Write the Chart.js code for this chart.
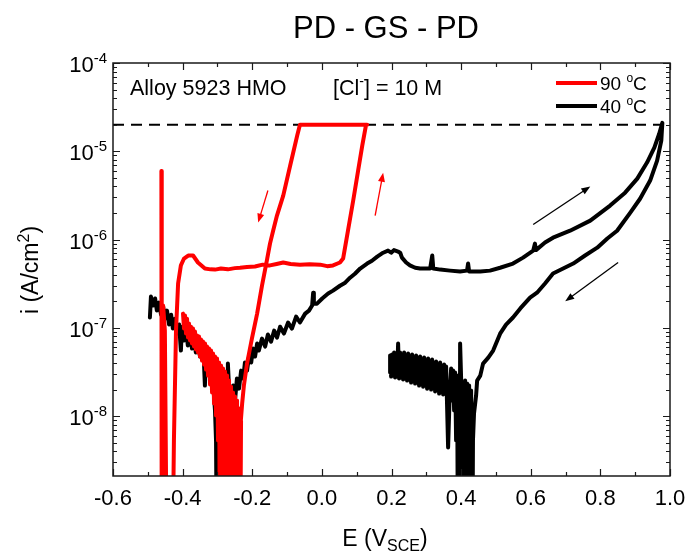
<!DOCTYPE html>
<html>
<head>
<meta charset="utf-8">
<script src="https://cdn.jsdelivr.net/npm/chart.js@4.4.0/dist/chart.umd.min.js"></script>
<style>
  html, body { margin: 0; padding: 0; background: #fff; }
</style>
</head>
<body>
<canvas id="chart" width="689" height="556"></canvas>
<script>
// 90 C scan: forward PD, GS hold at 2e-5, reverse PD (E in V_SCE, i in A/cm2)
const redE = [
  -0.461, -0.460, -0.456, -0.451, -0.445, -0.430, -0.425, -0.419, -0.413, -0.405,
  -0.396, -0.384, -0.370, -0.356, -0.336, -0.320, -0.307, -0.290, -0.270, -0.250,
  -0.235, -0.215, -0.192, -0.170, -0.149, -0.130, -0.111, -0.090, -0.063, -0.035,
  -0.005, 0.015, 0.032, 0.052, 0.061, 0.075, 0.090, 0.104, 0.116, 0.127,
  0.130, -0.063, -0.071, -0.091, -0.111, -0.129, -0.140, -0.149, -0.157, -0.172,
  -0.186, -0.201, -0.215, -0.224, -0.229, -0.235, -0.238, -0.241,
  // noisy cathodic branch of the reverse scan
  -0.2322, -0.2351, -0.2379, -0.2408, -0.2437, -0.2466, -0.2494, -0.2523, -0.2552, -0.2580,
  -0.2609, -0.2638, -0.2667, -0.2695, -0.2724, -0.2753, -0.2782, -0.2810, -0.2839, -0.2868,
  -0.2897, -0.2925, -0.2954, -0.2983, -0.3011, -0.3040, -0.3069, -0.3098, -0.3126, -0.3155,
  -0.3184, -0.3213, -0.3241, -0.3270, -0.3299, -0.3328, -0.3356, -0.3385, -0.3414, -0.3443,
  -0.3471, -0.3500, -0.3529, -0.3557, -0.3586, -0.3615, -0.3644, -0.3672, -0.3701, -0.3730,
  -0.3759, -0.3787, -0.3816, -0.3845, -0.3874, -0.3902, -0.3931, -0.3960, -0.3989
];
const redI = [
  6.0e-6, 1e-10, 1.79e-7, 9.3e-8, 1e-10, 1e-10, 5.3e-9, 9.3e-8, 3.18e-7, 5.1e-7,
  6.1e-7, 6.6e-7, 6.6e-7, 5.5e-7, 4.7e-7, 4.6e-7, 4.57e-7, 4.7e-7, 4.6e-7, 4.75e-7,
  4.8e-7, 4.9e-7, 4.95e-7, 5.2e-7, 5.1e-7, 5.3e-7, 5.5e-7, 5.3e-7, 5.2e-7, 5.25e-7,
  5.2e-7, 5.0e-7, 5.1e-7, 5.5e-7, 6.1e-7, 1.26e-6, 2.77e-6, 6.0e-6, 1.16e-5, 2.0e-5,
  2.0e-5, 2.0e-5, 1.5e-5, 6.9e-6, 3.15e-6, 1.87e-6, 1.26e-6, 9.0e-7, 6.1e-7, 3.0e-7,
  1.45e-7, 7.56e-8, 3.94e-8, 2.22e-8, 1.39e-8, 6.9e-9, 3.6e-9, 1e-10,
  8.9e-9, 1e-10, 1.22e-8, 1e-10, 1.5e-8, 1e-10, 1.67e-8, 1e-10, 1.85e-8, 1e-10,
  2.16e-8, 1e-10, 2.53e-8, 1e-10, 2.88e-8, 1e-10, 3.2e-8, 1e-10, 3.46e-8, 1e-10,
  3.74e-8, 1e-10, 4.05e-8, 5.29e-9, 4.49e-8, 1.02e-8, 4.73e-8, 1.39e-8, 5.12e-8, 1.85e-8,
  5.53e-8, 2.28e-8, 5.83e-8, 2.88e-8, 6.14e-8, 3.37e-8, 6.64e-8, 3.84e-8, 6.99e-8, 4.26e-8,
  7.37e-8, 4.73e-8, 7.96e-8, 5.25e-8, 8.18e-8, 5.68e-8, 9.08e-8, 6.14e-8, 9.82e-8, 6.64e-8,
  1.03e-7, 7.18e-8, 1.12e-7, 7.76e-8, 1.27e-7, 8.62e-8, 1.38e-7, 9.82e-8, 1.45e-7
];

// 40 C scan
const blackE = [
  -0.494, -0.491, -0.485, -0.479, -0.474, -0.468, -0.462, -0.456, -0.451, -0.445,
  -0.439, -0.433, -0.428, -0.422, -0.416, -0.410, -0.405, -0.402, -0.396, -0.390,
  -0.385, -0.379, -0.373, -0.367, -0.362, -0.356, -0.350, -0.344, -0.339, -0.336,
  -0.333, -0.327, -0.321, -0.316, -0.313, -0.310, -0.307, -0.304, -0.301, -0.295,
  -0.290, -0.284, -0.278, -0.272, -0.270, -0.267, -0.261, -0.255, -0.249, -0.244,
  -0.238, -0.232, -0.226, -0.221, -0.215, -0.209, -0.203, -0.198, -0.192, -0.186,
  -0.181, -0.172, -0.163, -0.155, -0.146, -0.137, -0.129, -0.120, -0.109, -0.097,
  -0.086, -0.074, -0.063, -0.048, -0.037, -0.028, -0.025, -0.023, -0.014, 0.001,
  0.018, 0.032, 0.052, 0.067, 0.081, 0.095, 0.110, 0.130, 0.144, 0.159,
  0.176, 0.190, 0.199, 0.207, 0.219, 0.225, 0.230, 0.242, 0.253, 0.268,
  0.282, 0.297, 0.311, 0.317, 0.320, 0.340, 0.368, 0.397, 0.417, 0.420,
  0.423, 0.455, 0.483, 0.512, 0.549, 0.578, 0.607, 0.612, 0.615, 0.641,
  0.664, 0.713, 0.771, 0.828, 0.871, 0.906, 0.934, 0.955, 0.969, 0.978,
  0.975, 0.963, 0.943, 0.914, 0.886, 0.848, 0.820, 0.791, 0.756, 0.722,
  0.693, 0.664, 0.641, 0.618, 0.598, 0.570, 0.549, 0.529, 0.512, 0.492,
  0.478, 0.463, 0.455, 0.446, 0.443, 0.437, 0.434, 0.432,
  // noisy tail of the reverse scan
  0.4287, 0.4259, 0.4230, 0.4201, 0.4172, 0.4144, 0.4115, 0.4086, 0.4057, 0.4029,
  0.4000, 0.3971, 0.3957, 0.3943, 0.3914, 0.3885, 0.3856, 0.3828, 0.3799, 0.3770,
  0.3741, 0.3713, 0.3670, 0.3626,
  0.3569, 0.3540, 0.3511, 0.3483, 0.3454, 0.3425, 0.3397, 0.3368, 0.3339, 0.3310,
  0.3282, 0.3253, 0.3224, 0.3195, 0.3167, 0.3138, 0.3109, 0.3080, 0.3052, 0.3023,
  0.2994, 0.2966, 0.2937, 0.2908, 0.2879, 0.2851, 0.2822, 0.2793, 0.2764, 0.2736,
  0.2707, 0.2678, 0.2649, 0.2621, 0.2592, 0.2563, 0.2534, 0.2506, 0.2477, 0.2448,
  0.2420, 0.2391, 0.2362, 0.2333, 0.2305, 0.2276, 0.2247, 0.2218, 0.2190, 0.2161,
  0.2132, 0.2103, 0.2075, 0.2046, 0.2017, 0.1989, 0.1960, 0.1960
];
const blackI = [
  1.31e-7, 2.26e-7, 1.79e-7, 2.15e-7, 1.57e-7, 1.93e-7, 1.41e-7, 1.74e-7, 1.27e-7, 1.57e-7,
  1.09e-7, 1.41e-7, 9.82e-8, 1.27e-7, 8.62e-8, 1.09e-7, 5.53e-8, 1.03e-7, 7.18e-8, 9.32e-8,
  6.3e-8, 8.18e-8, 5.83e-8, 7.18e-8, 5.25e-8, 6.47e-8, 4.73e-8, 5.83e-8, 4.26e-8, 2.22e-8,
  5.25e-8, 3.64e-8, 4.49e-8, 2.88e-8, 3.74e-8, 1.71e-8, 1.16e-8, 5.29e-9, 1e-10, 1e-10,
  6.87e-9, 1.5e-8, 2.34e-8, 1.85e-8, 3.94e-8, 2.22e-8, 1.71e-8, 2.22e-8, 1.58e-8, 2.67e-8,
  2.05e-8, 3.28e-8, 2.67e-8, 4.05e-8, 3.28e-8, 4.86e-8, 4.05e-8, 5.83e-8, 4.73e-8, 6.64e-8,
  5.53e-8, 7.56e-8, 6.14e-8, 8.4e-8, 6.99e-8, 9.32e-8, 7.76e-8, 1.03e-7, 8.62e-8, 1.15e-7,
  9.82e-8, 1.34e-7, 1.15e-7, 1.45e-7, 1.57e-7, 1.79e-7, 2.5e-7, 1.88e-7, 1.88e-7, 2.15e-7,
  2.45e-7, 2.64e-7, 3.0e-7, 3.25e-7, 3.7e-7, 4.1e-7, 4.7e-7, 5.35e-7, 5.75e-7, 6.4e-7,
  7.1e-7, 7.5e-7, 7.1e-7, 7.6e-7, 7.3e-7, 7.1e-7, 6.25e-7, 5.5e-7, 5.1e-7, 4.8e-7,
  4.7e-7, 4.7e-7, 4.7e-7, 6.6e-7, 4.7e-7, 4.57e-7, 4.45e-7, 4.35e-7, 4.45e-7, 5.35e-7,
  4.35e-7, 4.35e-7, 4.45e-7, 4.8e-7, 5.35e-7, 6.25e-7, 7.5e-7, 9.0e-7, 7.6e-7, 9.25e-7,
  1.05e-6, 1.26e-6, 1.64e-6, 2.43e-6, 3.4e-6, 4.9e-6, 7.45e-6, 1.1e-5, 1.58e-5, 2.1e-5,
  1.32e-5, 7.85e-6, 4.66e-6, 2.9e-6, 2.02e-6, 1.26e-6, 1.03e-6, 8.1e-7, 6.6e-7, 5.35e-7,
  4.7e-7, 4.12e-7, 3.18e-7, 2.5e-7, 2.2e-7, 1.66e-7, 1.31e-7, 1.09e-7, 8.6e-8, 5.53e-8,
  4.6e-8, 3.94e-8, 2.88e-8, 2.53e-8, 1.71e-8, 1.07e-8, 5.3e-9, 1e-10,
  1.95e-8, 1e-10, 2.22e-8, 1e-10, 2.34e-8, 1e-10, 2.53e-8, 1e-10, 2.4e-8, 1e-10,
  2.67e-8, 6.64e-8, 1e-10, 2.81e-8, 1e-10, 2.88e-8, 5.29e-9, 3.12e-8, 1.16e-8, 3.28e-8,
  1.5e-8, 3.46e-8, 1.71e-8, 4.41e-9,
  3.64e-8, 1.85e-8, 3.84e-8, 1.76e-8, 3.55e-8, 1.95e-8, 4.05e-8, 1.8e-8, 3.74e-8, 2.05e-8,
  4.15e-8, 1.9e-8, 3.94e-8, 2.11e-8, 4.38e-8, 2.0e-8, 4.15e-8, 2.16e-8, 4.49e-8, 2.05e-8,
  4.26e-8, 2.22e-8, 4.61e-8, 2.16e-8, 4.38e-8, 2.34e-8, 4.73e-8, 2.22e-8, 4.49e-8, 2.4e-8,
  4.86e-8, 2.34e-8, 4.61e-8, 2.53e-8, 4.99e-8, 2.4e-8, 4.73e-8, 2.6e-8, 5.12e-8, 2.53e-8,
  4.86e-8, 2.67e-8, 5.25e-8, 2.6e-8, 4.99e-8, 2.74e-8, 5.25e-8, 2.67e-8, 6.64e-8, 2.81e-8,
  5.12e-8, 2.74e-8, 5.25e-8, 2.88e-8, 4.99e-8, 2.81e-8, 4.86e-8, 3.12e-8
];

// galvanostatic current limit (dashed)
const limitE = [-0.6, 1.0];
const limitI = [2e-5, 2e-5];

// axis ticks
const xMajor = [-0.6, -0.4, -0.2, 0.0, 0.2, 0.4, 0.6, 0.8, 1.0];
const xMinor = [-0.5, -0.3, -0.1, 0.1, 0.3, 0.5, 0.7, 0.9];
const yExp = [-8, -7, -6, -5, -4];

// scan direction arrows, [E, i] from -> to
const arrowColor = ["#ff0000", "#ff0000", "#000000", "#000000"];
const arrowFrom = [[-0.155, 3.6e-6], [0.153, 1.87e-6], [0.607, 1.48e-6], [0.851, 5.5e-7]];
const arrowTo = [[-0.183, 1.56e-6], [0.176, 5.7e-6], [0.771, 4.0e-6], [0.699, 2.0e-7]];

const FONT = "'Liberation Sans', Arial, sans-serif";

function toPoints(xs, ys) {
  return xs.map((v, k) => ({ x: v, y: ys[k] }));
}

function runsWidth(ctx, runs) {
  let w = 0;
  runs.forEach((r) => {
    ctx.font = r.size + "px " + FONT;
    w += ctx.measureText(r.t).width;
  });
  return w;
}

function drawRuns(ctx, runs, x, y) {
  runs.forEach((r) => {
    ctx.font = r.size + "px " + FONT;
    ctx.fillText(r.t, x, y + (r.dy || 0));
    x += ctx.measureText(r.t).width;
  });
}

// frame, inward ticks, labels, legend and arrows
const decor = {
  id: "decor",
  afterDatasetsDraw(chart) {
    const { ctx, chartArea: a, scales } = chart;
    const x = scales.x;
    const y = scales.y;
    ctx.save();
    ctx.strokeStyle = "#1a1a1a";
    ctx.lineWidth = 1.5;
    ctx.strokeRect(a.left, a.top, a.right - a.left, a.bottom - a.top);

    ctx.beginPath();
    const xt = (v, len) => {
      const px = Math.round(x.getPixelForValue(v)) + 0.5;
      ctx.moveTo(px, a.bottom); ctx.lineTo(px, a.bottom - len);
      ctx.moveTo(px, a.top); ctx.lineTo(px, a.top + len);
    };
    const yt = (v, len) => {
      const py = Math.round(y.getPixelForValue(v)) + 0.5;
      ctx.moveTo(a.left, py); ctx.lineTo(a.left + len, py);
      ctx.moveTo(a.right, py); ctx.lineTo(a.right - len, py);
    };
    xMajor.forEach((v) => xt(v, 7));
    xMinor.forEach((v) => xt(v, 4));
    for (let d = -9; d <= -4; d++) {
      for (let k = 1; k <= 9; k++) {
        const v = k * Math.pow(10, d);
        if (v < y.min || v > y.max * 1.0001) continue;
        yt(v, k === 1 ? 7 : 4);
      }
    }
    ctx.lineWidth = 1.2;
    ctx.stroke();

    ctx.fillStyle = "#000";
    ctx.textAlign = "left";
    ctx.textBaseline = "alphabetic";

    // y tick labels 10^n
    yExp.forEach((e) => {
      const py = y.getPixelForValue(Math.pow(10, e));
      const runs = [{ t: "10", size: 22 }, { t: String(e), size: 15, dy: -9 }];
      const w = runsWidth(ctx, runs);
      drawRuns(ctx, runs, a.left - 6 - w, py + 9);
    });

    // title
    let runs = [{ t: "PD - GS - PD", size: 31 }];
    drawRuns(ctx, runs, 386 - runsWidth(ctx, runs) / 2, 38);

    // x title
    runs = [{ t: "E (V", size: 23 }, { t: "SCE", size: 16, dy: 5 }, { t: ")", size: 23 }];
    drawRuns(ctx, runs, 385 - runsWidth(ctx, runs) / 2, 546);

    // y title
    ctx.save();
    ctx.translate(30, 270);
    ctx.rotate(-Math.PI / 2);
    runs = [{ t: "i (A/cm", size: 23 }, { t: "2", size: 16, dy: -9 }, { t: ")", size: 23 }];
    drawRuns(ctx, runs, -runsWidth(ctx, runs) / 2, 8);
    ctx.restore();

    // annotations
    drawRuns(ctx, [{ t: "Alloy 5923 HMO", size: 21.5 }], 130, 95);
    drawRuns(ctx, [{ t: "[Cl", size: 21.5 }, { t: "-", size: 14, dy: -9 }, { t: "] = 10 M", size: 21.5 }], 333, 95);

    // legend
    const legend = [["#ff0000", "90 "], ["#000000", "40 "]];
    legend.forEach((l, k) => {
      const ly = 83 + k * 23;
      ctx.strokeStyle = l[0];
      ctx.lineWidth = 4;
      ctx.beginPath();
      ctx.moveTo(556, ly); ctx.lineTo(597, ly);
      ctx.stroke();
      drawRuns(ctx, [{ t: l[1], size: 19 }, { t: "o", size: 12, dy: -8 }, { t: "C", size: 19 }], 600, ly + 7);
    });

    // arrows
    arrowFrom.forEach((f, k) => {
      const x0 = x.getPixelForValue(f[0]), y0 = y.getPixelForValue(f[1]);
      const x1 = x.getPixelForValue(arrowTo[k][0]), y1 = y.getPixelForValue(arrowTo[k][1]);
      const ang = Math.atan2(y1 - y0, x1 - x0);
      const hl = 9, hw = 3.5;
      ctx.strokeStyle = arrowColor[k];
      ctx.fillStyle = arrowColor[k];
      ctx.lineWidth = 1.3;
      ctx.beginPath();
      ctx.moveTo(x0, y0);
      ctx.lineTo(x1 - Math.cos(ang) * hl * 0.8, y1 - Math.sin(ang) * hl * 0.8);
      ctx.stroke();
      ctx.beginPath();
      ctx.moveTo(x1, y1);
      ctx.lineTo(x1 - Math.cos(ang) * hl - Math.sin(ang) * hw, y1 - Math.sin(ang) * hl + Math.cos(ang) * hw);
      ctx.lineTo(x1 - Math.cos(ang) * hl + Math.sin(ang) * hw, y1 - Math.sin(ang) * hl - Math.cos(ang) * hw);
      ctx.closePath();
      ctx.fill();
    });
    ctx.restore();
  },
};

const lineStyle = {
  showLine: true,
  pointRadius: 0,
  tension: 0,
  fill: false,
  clip: 0,
  borderJoinStyle: "round",
  borderCapStyle: "round",
};

new Chart(document.getElementById("chart"), {
  type: "scatter",
  data: {
    datasets: [
      { ...lineStyle, label: "90 °C", data: toPoints(redE, redI), borderColor: "#ff0000", borderWidth: 4, order: 1 },
      { ...lineStyle, label: "40 °C", data: toPoints(blackE, blackI), borderColor: "#000000", borderWidth: 4, order: 2 },
      { ...lineStyle, label: "limit", data: toPoints(limitE, limitI), borderColor: "#000000", borderWidth: 2, borderDash: [11, 7], borderCapStyle: "butt", order: 3 },
    ],
  },
  options: {
    responsive: false,
    animation: false,
    layout: { padding: { top: 63, left: 0, right: 19, bottom: 0 } },
    plugins: { legend: { display: false }, tooltip: { enabled: false } },
    scales: {
      x: {
        type: "linear",
        min: -0.6,
        max: 1.0,
        afterFit: (s) => { s.height = 80; s.paddingLeft = 0; s.paddingRight = 0; },
        grid: { display: false, drawTicks: false },
        border: { display: false },
        ticks: {
          stepSize: 0.2,
          padding: 10,
          color: "#000",
          font: { size: 22, family: FONT },
          maxRotation: 0,
          callback: (v) => v.toFixed(1),
        },
      },
      y: {
        type: "logarithmic",
        min: 2.1e-9,
        max: 1e-4,
        afterFit: (s) => { s.width = 113; },
        grid: { display: false, drawTicks: false },
        border: { display: false },
        ticks: { display: false },
      },
    },
  },
  plugins: [decor],
});
</script>
</body>
</html>
